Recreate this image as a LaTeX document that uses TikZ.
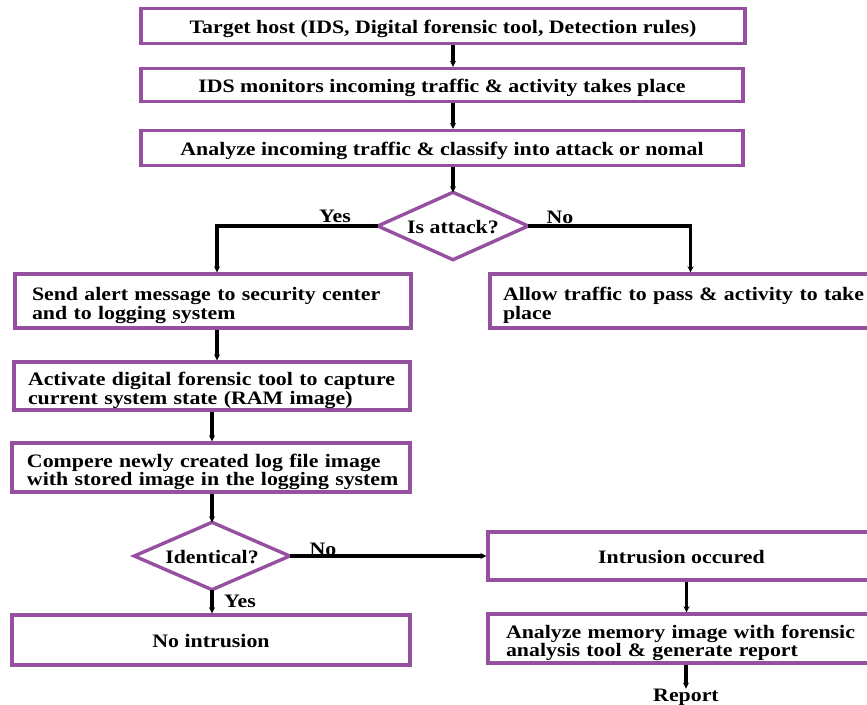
\documentclass[tikz,border=0pt]{standalone}
\usepackage{fontspec}
\setmainfont[FakeStretch=1.15]{Liberation Serif}
\usetikzlibrary{arrows.meta}
\definecolor{boxc}{RGB}{150,80,160}
\newcommand{\tstrut}{\rule{0pt}{22pt}}
\newcommand{\myfont}{\fontsize{19}{18.5}\selectfont\bfseries\setlength{\lineskiplimit}{-20pt}}
\begin{document}
\begin{tikzpicture}[x=1pt,y=-1pt,
  txt/.style={font=\myfont},
  box/.style={txt,draw=boxc,line width=3.4pt,fill=white,inner sep=0pt,align=center},
  cbox/.style={box,text height=19pt,text depth=4pt},
  lbox/.style={box,align=left},
  dec/.style={txt,inner sep=0pt,align=center,text height=18pt,text depth=4pt},
  diam/.style={draw=boxc,line width=3.4pt,line join=miter},
  arr/.style={line width=3.2pt,-{Stealth[length=6pt,width=6pt]}},
  lab/.style={txt,inner sep=0pt}]
\useasboundingbox (0,0) rectangle (867,704);
\clip (0,0) rectangle (867,704);
\fill[white] (0,0) rectangle (867,704);

\node[cbox,minimum width=604pt,minimum height=35pt] (b1) at (443,26) {Target host (IDS, Digital forensic tool, Detection rules)};
\node[cbox,minimum width=602pt,minimum height=33pt] (b2) at (442,85) {IDS monitors incoming traffic \& activity takes place};
\node[cbox,minimum width=602pt,minimum height=35pt] (b3) at (442,148) {Analyze incoming traffic \& classify into attack or nomal};
\node[dec,minimum width=150pt,minimum height=67pt] (d1) at (453,226) {Is attack?};
\draw[diam] (d1.north) -- (d1.east) -- (d1.south) -- (d1.west) -- cycle;

\node[lbox,minimum height=54pt,inner xsep=17pt,text width=362pt] (send) at (213,301) {\mbox{\tstrut Send alert message to security center}\\\mbox{and to logging system}};
\node[lbox,minimum height=54pt,inner xsep=13pt,text width=359pt] (allow) at (682.5,301) {\mbox{\tstrut Allow traffic to pass \& activity to take}\\\mbox{place}};
\node[lbox,minimum height=48pt,inner xsep=14pt,text width=368pt] (act) at (212,386) {\mbox{\tstrut Activate digital forensic tool to capture}\\\mbox{current system state (RAM image)}};
\node[lbox,minimum height=49pt,inner xsep=15pt,text width=368pt] (cmp) at (211,467.5) {\mbox{\tstrut Compere newly created log file image}\\\mbox{with stored image in the logging system}};
\node[dec,minimum width=155pt,minimum height=67pt] (d2) at (212,556) {Identical?};
\draw[diam] (d2.north) -- (d2.east) -- (d2.south) -- (d2.west) -- cycle;
\node[cbox,minimum width=387pt,minimum height=48pt] (intr) at (681.5,556) {Intrusion occured};
\node[cbox,minimum width=398pt,minimum height=50pt] (noi) at (211,640) {No intrusion};
\node[lbox,minimum height=49pt,inner xsep=18pt,text width=351pt] (mem) at (681.5,638.5) {\mbox{\tstrut Analyze memory image with forensic}\\\mbox{analysis tool \& generate report}};
\node[lab] (rep) at (686,697) {Report};

\draw[arr] (b1.south -| d1.north) -- (b2.north -| d1.north);
\draw[arr] (b2.south -| d1.north) -- (b3.north -| d1.north);
\draw[arr] (b3.south -| d1.north) -- (d1.north);
\draw[arr] (d1.west) -| ([xshift=4pt]send.north);
\draw[arr] (d1.east) -| ([xshift=8pt]allow.north);
\draw[arr] ([xshift=4pt]send.south) -- ([xshift=5pt]act.north);
\draw[arr] (act.south) -- (act.south |- cmp.north);
\draw[arr] ([xshift=1pt]cmp.south) -- (d2.north);
\draw[arr] (d2.east) -- (intr.west);
\draw[arr] (d2.south) -- (d2.south |- noi.north);
\draw[arr] ([xshift=5pt]intr.south) -- ([xshift=5pt]mem.north);
\draw[arr] (mem.south -| rep.north) -- (rep.north);

\node[lab] (ly1) at (335,216) {Yes};
\node[lab] (ln1) at (560,217) {No};
\node[lab] (ln2) at (323,549) {No};
\node[lab] (ly2) at (240,601) {Yes};
\end{tikzpicture}
\end{document}
